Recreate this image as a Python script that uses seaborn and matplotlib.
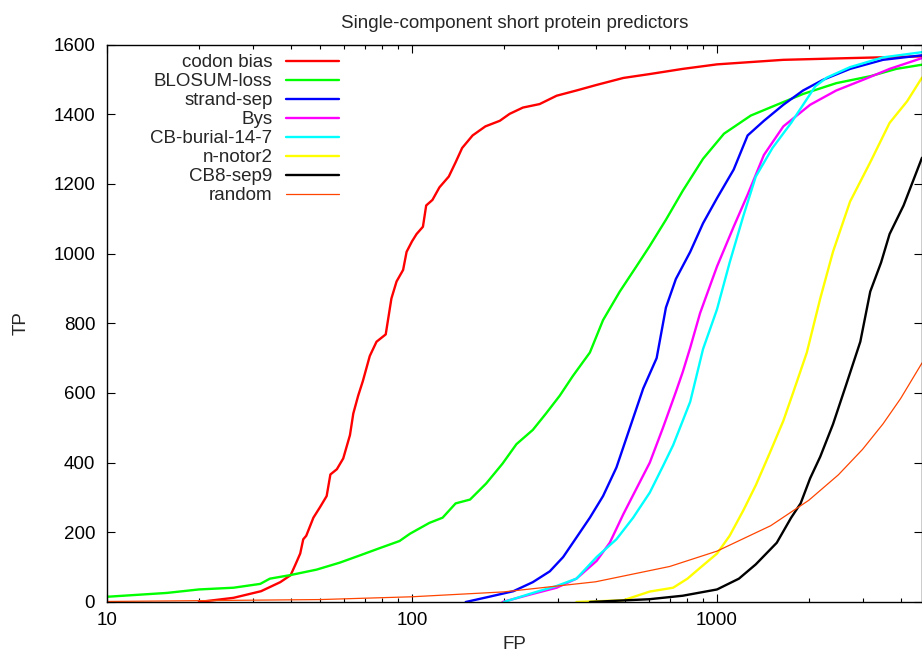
import numpy as np
import pandas as pd
import seaborn as sns
import matplotlib.pyplot as plt
from matplotlib.ticker import LogLocator, NullFormatter

# ---- data (FP, TP pairs per predictor) ----
names = ["codon bias", "BLOSUM-loss", "strand-sep", "Bys",
         "CB-burial-14-7", "n-notor2", "CB8-sep9"]
colors = ["#ff0000", "#00ff00", "#0000ff", "#ff00ff",
          "#00ffff", "#ffff00", "#000000"]

red_fp = [20, 26, 32, 37, 40, 41.5, 43, 44, 45, 47.5, 50, 52.5, 54, 56.7, 59.5,
          62.6, 64.2, 66.6, 69, 72.7, 76.5, 82, 85.6, 89, 93.5, 96, 100, 103.5,
          108.6, 111.3, 116.7, 123, 132, 139, 146, 158, 174, 194, 209, 231, 262,
          298, 346, 403, 493, 600, 772, 1000, 1650, 2730, 4700]
red_tp = [0, 12, 31, 57, 77, 108, 139, 180, 190, 242, 273, 304, 366, 381, 412,
          479, 541, 592, 634, 706, 747, 768, 871, 920, 953, 1005, 1035, 1056,
          1077, 1138, 1154, 1190, 1221, 1262, 1303, 1339, 1365, 1381, 1401, 1419,
          1429, 1453, 1468, 1484, 1504, 1515, 1530, 1543, 1556, 1561, 1566]

green_fp = [10, 15.7, 20, 26, 31.8, 34.2, 39.8, 48.7, 58, 67.6, 78.6, 91, 98.5,
            114, 126, 139, 155, 175, 198, 220, 249, 275, 305, 337, 383, 423, 480,
            544, 600, 680, 772, 900, 1054, 1290, 1570, 1915, 2460, 3180, 3870, 4700]
green_tp = [15, 26, 36, 41, 52, 67, 77, 93, 113, 134, 155, 175, 196, 227, 242,
            283, 294, 340, 397, 453, 494, 541, 592, 649, 716, 809, 891, 963, 1020,
            1097, 1180, 1272, 1344, 1396, 1427, 1458, 1489, 1509, 1530, 1542]

blue_fp = [150, 179, 215, 249, 283, 313, 346, 383, 423, 468, 518, 573, 634, 680,
           733, 817, 900, 1000, 1134, 1260, 1425, 1650, 1915, 2230, 2730, 3500, 4700]
blue_tp = [0, 15, 31, 57, 88, 129, 185, 242, 304, 386, 500, 613, 700, 845, 927,
           1005, 1087, 1159, 1241, 1339, 1381, 1427, 1468, 1499, 1530, 1556, 1569]

mag_fp = [198, 243, 298, 346, 403, 445, 493, 544, 602, 665, 733, 772, 817, 880,
          1000, 1134, 1260, 1425, 1650, 2020, 2460, 3020, 3680, 4700]
mag_tp = [0, 21, 41, 67, 118, 170, 252, 325, 400, 500, 603, 660, 730, 829, 963,
          1077, 1169, 1283, 1365, 1427, 1468, 1499, 1530, 1561]

cyan_fp = [200, 249, 298, 346, 403, 468, 531, 602, 665, 718, 772, 817, 900, 1000,
           1100, 1220, 1340, 1520, 1750, 2100, 2290, 2730, 3500, 4700]
cyan_tp = [0, 26, 46, 67, 129, 180, 242, 314, 390, 450, 520, 575, 726, 840, 974,
           1108, 1221, 1303, 1375, 1480, 1505, 1535, 1563, 1578]

yellow_fp = [346, 493, 602, 718, 800, 880, 1000, 1100, 1220, 1340, 1490, 1650,
             1780, 1970, 2180, 2400, 2730, 3180, 3680, 4200, 4700]
yellow_tp = [0, 5, 30, 41, 67, 98, 139, 190, 263, 335, 428, 520, 603, 716, 871,
             1005, 1149, 1262, 1375, 1437, 1505]

black_fp = [383, 600, 772, 1000, 1180, 1340, 1570, 1750, 1880, 2020, 2180, 2400,
            2650, 2950, 3180, 3450, 3680, 4090, 4700]
black_tp = [0, 8, 18, 36, 67, 108, 170, 242, 283, 355, 417, 510, 623, 747, 891,
            974, 1056, 1138, 1275]

random_fp = [10, 50, 100, 200, 400, 700, 1000, 1500, 2000, 2500, 3000, 3500, 4000, 4700]
random_tp = [1.5, 7, 15, 29, 58, 102, 146, 219, 292, 365, 438, 511, 584, 686]

series_fp = [red_fp, green_fp, blue_fp, mag_fp, cyan_fp, yellow_fp, black_fp]
series_tp = [red_tp, green_tp, blue_tp, mag_tp, cyan_tp, yellow_tp, black_tp]

rows = []
for name, fps, tps in zip(names, series_fp, series_tp):
    for x, y in zip(fps, tps):
        rows.append((x, y, name))
df = pd.DataFrame(rows, columns=["FP", "TP", "predictor"])

sns.set_theme(style="ticks")
plt.rcParams['font.family'] = ['Liberation Sans', 'DejaVu Sans']
fs = 13.5

fig = plt.figure(figsize=(9.22, 6.58), dpi=100)
ax = fig.add_axes([107 / 922, 56 / 658, 815 / 922, 557.5 / 658])

sns.lineplot(data=df, x="FP", y="TP", hue="predictor", hue_order=names,
             palette=colors, estimator=None, sort=False, linewidth=1.7,
             legend=False, ax=ax)
sns.lineplot(x=random_fp, y=random_tp, color="orangered", linewidth=0.9,
             estimator=None, sort=False, ax=ax)

ax.set_xscale("log")
ax.set_xlim(10, 4700)
ax.set_ylim(0, 1600)
ax.set_xticks([10, 100, 1000])
ax.set_xticklabels(["10", "100", "1000"])
ax.xaxis.set_minor_locator(LogLocator(base=10, subs=range(2, 10)))
ax.xaxis.set_minor_formatter(NullFormatter())
ax.set_yticks(range(0, 1601, 200))

ax.tick_params(which="both", direction="in", top=True, right=True,
               width=0.8, colors="black", labelsize=fs)
ax.tick_params(which="major", length=5.8)
ax.tick_params(which="minor", length=2.9)
ax.tick_params(axis="y", pad=8.5)
ax.tick_params(axis="x", pad=7)
for sp in ax.spines.values():
    sp.set_color("black")
    sp.set_linewidth(1.0)

ax.set_title("Single-component short protein predictors", fontsize=fs, pad=12)
ax.set_xlabel("FP", fontsize=fs)
ax.set_ylabel("TP", fontsize=fs)
ax.xaxis.set_label_coords(0.5, -0.061)
ax.yaxis.set_label_coords(-0.0945, 0.5)

handles = ax.lines[:8]
labels = names + ["random"]
ax.legend(handles, labels, loc="upper right",
          bbox_to_anchor=(339 / 922, 1 - 54 / 658), bbox_transform=fig.transFigure,
          markerfirst=False, frameon=False, handlelength=2.85, handletextpad=0.7,
          labelspacing=0.1, borderpad=0, borderaxespad=0, fontsize=fs)

fig.savefig("out.png", dpi=100)
